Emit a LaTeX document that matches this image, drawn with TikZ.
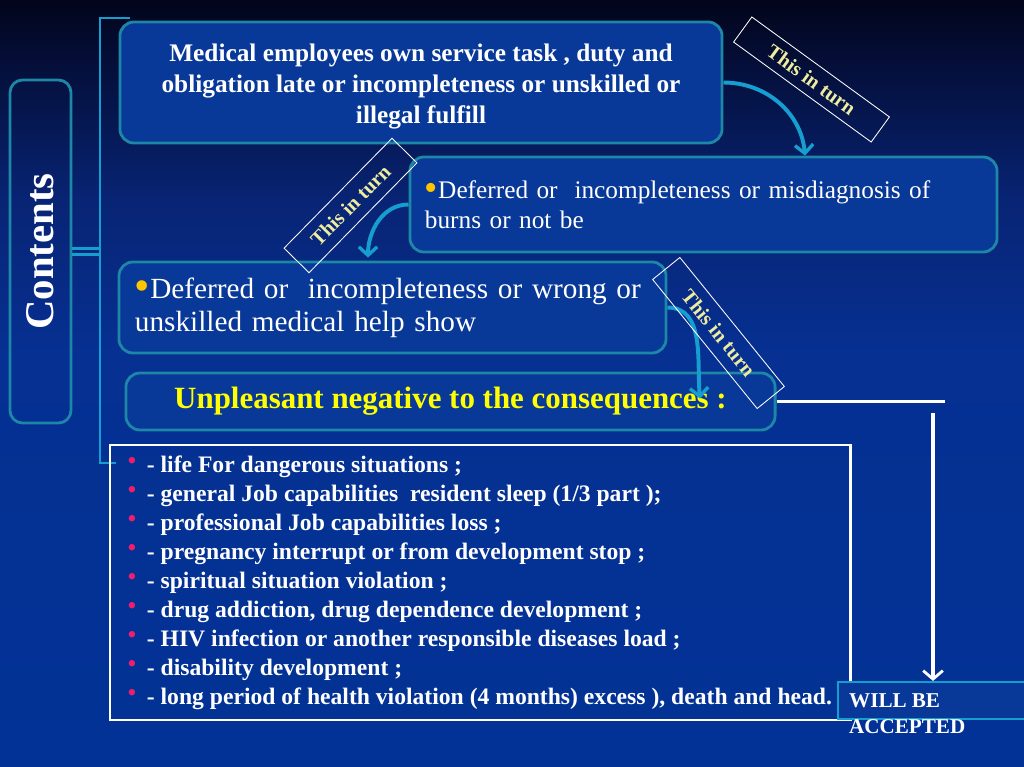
\documentclass[tikz,border=0pt]{standalone}
\usepackage{fontspec}
\setmainfont{Liberation Serif}
\usetikzlibrary{
    arrows.meta,
    positioning,
    calc
}
\definecolor{bgTop}{RGB}{2,5,26}
\definecolor{bgDark}{RGB}{4,14,56}
\definecolor{bgMid}{RGB}{8,36,116}
\definecolor{bgLow}{RGB}{6,48,146}
\definecolor{bgBot}{RGB}{2,50,150}
\definecolor{edgeTeal}{RGB}{30,134,166}
\definecolor{panelBlue}{RGB}{8,56,152}
\definecolor{arrCyan}{RGB}{22,158,208}
\definecolor{labYellow}{RGB}{238,236,160}
\definecolor{dotYellow}{RGB}{255,198,0}
\definecolor{dotPink}{RGB}{238,30,110}
\definecolor{headYellow}{RGB}{255,255,0}
\pgfdeclareverticalshading{slidebg}{100bp}{color(0bp)=(bgBot); color(25bp)=(bgBot);
  color(52bp)=(bgLow); color(62bp)=(bgMid); color(71bp)=(bgDark);
  color(75bp)=(bgTop); color(100bp)=(bgTop)}
\newcommand{\harmdot}{{\color{dotPink}\raisebox{0.35ex}{\textbullet}}\hspace{0.45em}}
\newcommand{\stepdot}{{\color{dotYellow}\raisebox{-0.2ex}{\scalebox{1.5}{\textbullet}}}}
\tikzset{
  panel/.style   = {draw=edgeTeal, line width=2pt, rounded corners=10pt,
                    fill=panelBlue, text=white},
  turnlab/.style = {draw=white, line width=0.6pt, text=labYellow,
                    font=\bfseries\fontsize{14.5}{16}\selectfont},
  turn/.style    = {-{Straight Barb[length=6pt,width=13pt,line width=2.4pt]},
                    line width=2.8pt, arrCyan},
  brace/.style   = {line width=1.8pt, arrCyan},
  resline/.style = {line width=2.2pt, white},
  resarrow/.style= {-{Straight Barb[length=6pt,width=14pt,line width=2pt]},
                    line width=2.2pt, white}
}

\begin{document}
\begin{tikzpicture}[x=0.025cm, y=-0.025cm]
  \shade[shading=slidebg] (0,0) rectangle (1024,767);
  \useasboundingbox (0,0) rectangle (1024,767);

  % left heading
  \node[draw=edgeTeal, line width=2pt, rounded corners=9pt,
        minimum width=1.525cm, minimum height=8.575cm] (contents) at (40.5,251.5) {};
  \node[rotate=90, text=white, font=\bfseries\fontsize{29}{32}\selectfont]
       (contentsword) at (contents.center) {Contents};

  % bracket
  \coordinate (brtop) at (100,18);
  \coordinate (brbot) at (100,463);
  \draw[brace] ([xshift=0.75cm]brtop) -- (brtop) -- (brbot) -- ([xshift=0.4cm]brbot);
  \draw[brace] ([yshift=0.07cm]contents.east) -- ([yshift=0.07cm]contents.east -| brtop);
  \draw[brace] ([yshift=-0.07cm]contents.east) -- ([yshift=-0.07cm]contents.east -| brtop);

  % chain of boxes
  \node[panel, minimum width=15.05cm, minimum height=3.025cm, align=center,
        font=\bfseries\fontsize{18}{22}\selectfont] (task) at (421,82.5)
       {\rule{0pt}{18pt}Medical employees own service task , duty and\\
        obligation late or incompleteness or unskilled or\\
        illegal fulfill};
  \node[panel, minimum width=14.675cm, minimum height=2.375cm, align=left,
        inner xsep=0.375cm, text width=13.925cm,
        font=\fontsize{18}{21.5}\selectfont] (burns) at (703.5,204.5)
       {\stepdot Deferred or\ \ incompleteness or misdiagnosis of\\
        burns or not be};
  \node[panel, minimum width=13.675cm, minimum height=2.275cm, align=left,
        inner xsep=0.4cm, text width=12.875cm,
        font=\fontsize{20.8}{23.4}\selectfont] (help) at (392.5,307.5)
       {\stepdot Deferred or\ \ incompleteness or wrong or\\
        unskilled medical help show};
  \node[panel, minimum width=16.225cm, minimum height=1.425cm, text=headYellow,
        font=\bfseries\fontsize{22}{24}\selectfont] (conseq) at (450.5,401.5)
       {Unpleasant negative to the consequences :};

  % list of harms
  \node[draw=white, line width=2pt, minimum width=18.5cm, minimum height=6.875cm,
        align=left, text=white, font=\bfseries\fontsize{16.8}{20.6}\selectfont]
       (harms) at (480,582.5)
       {\harmdot- life For dangerous situations ;\\
        \harmdot- general Job capabilities\ \ resident sleep (1/3 part );\\
        \harmdot- professional Job capabilities loss ;\\
        \harmdot- pregnancy interrupt or from development stop ;\\
        \harmdot- spiritual situation violation ;\\
        \harmdot- drug addiction, drug dependence development ;\\
        \harmdot- HIV infection or another responsible diseases load ;\\
        \harmdot- disability development ;\\
        \harmdot- long period of health violation (4 months) excess ), death and head.};

  % result
  \node[draw=arrCyan, line width=1.5pt, fill=panelBlue,
        minimum width=4.8cm, minimum height=0.925cm] (accept) at (934,700.5) {};
  \node[anchor=north west, inner sep=0pt, align=left, text=white,
        font=\bfseries\fontsize{15}{18.5}\selectfont] (acceptword)
       at ([xshift=0.3cm,yshift=-0.3cm]accept.north west) {WILL BE\\ACCEPTED};

  % connectors
  \draw[turn] (task.east) to[out=0,in=95] ($(burns.north)+(101.5,0)$);
  \draw[turn] (burns.west) to[out=180,in=90] ($(help.north)+(-24.5,-3)$);
  \draw[turn] (help.east) to[out=0,in=95] ($(conseq.north)+(249.5,27)$);
  \draw[resline] (conseq.east) -- ++(168,0);
  \coordinate (drop) at (933,413);
  \draw[resarrow] (drop) -- (drop |- accept.north);

  % "this in turn" tags
  \node[turnlab, rotate=-36, minimum width=4.25cm, minimum height=0.775cm]
       (turn1) at (811.5,79.5) {This in turn};
  \node[turnlab, rotate=45.5, minimum width=3.85cm, minimum height=0.875cm]
       (turn2) at (350.5,205.5) {This in turn};
  \node[turnlab, rotate=-51, minimum width=4.15cm, minimum height=0.875cm]
       (turn3) at (718.5,333) {This in turn};
\end{tikzpicture}
\end{document}
